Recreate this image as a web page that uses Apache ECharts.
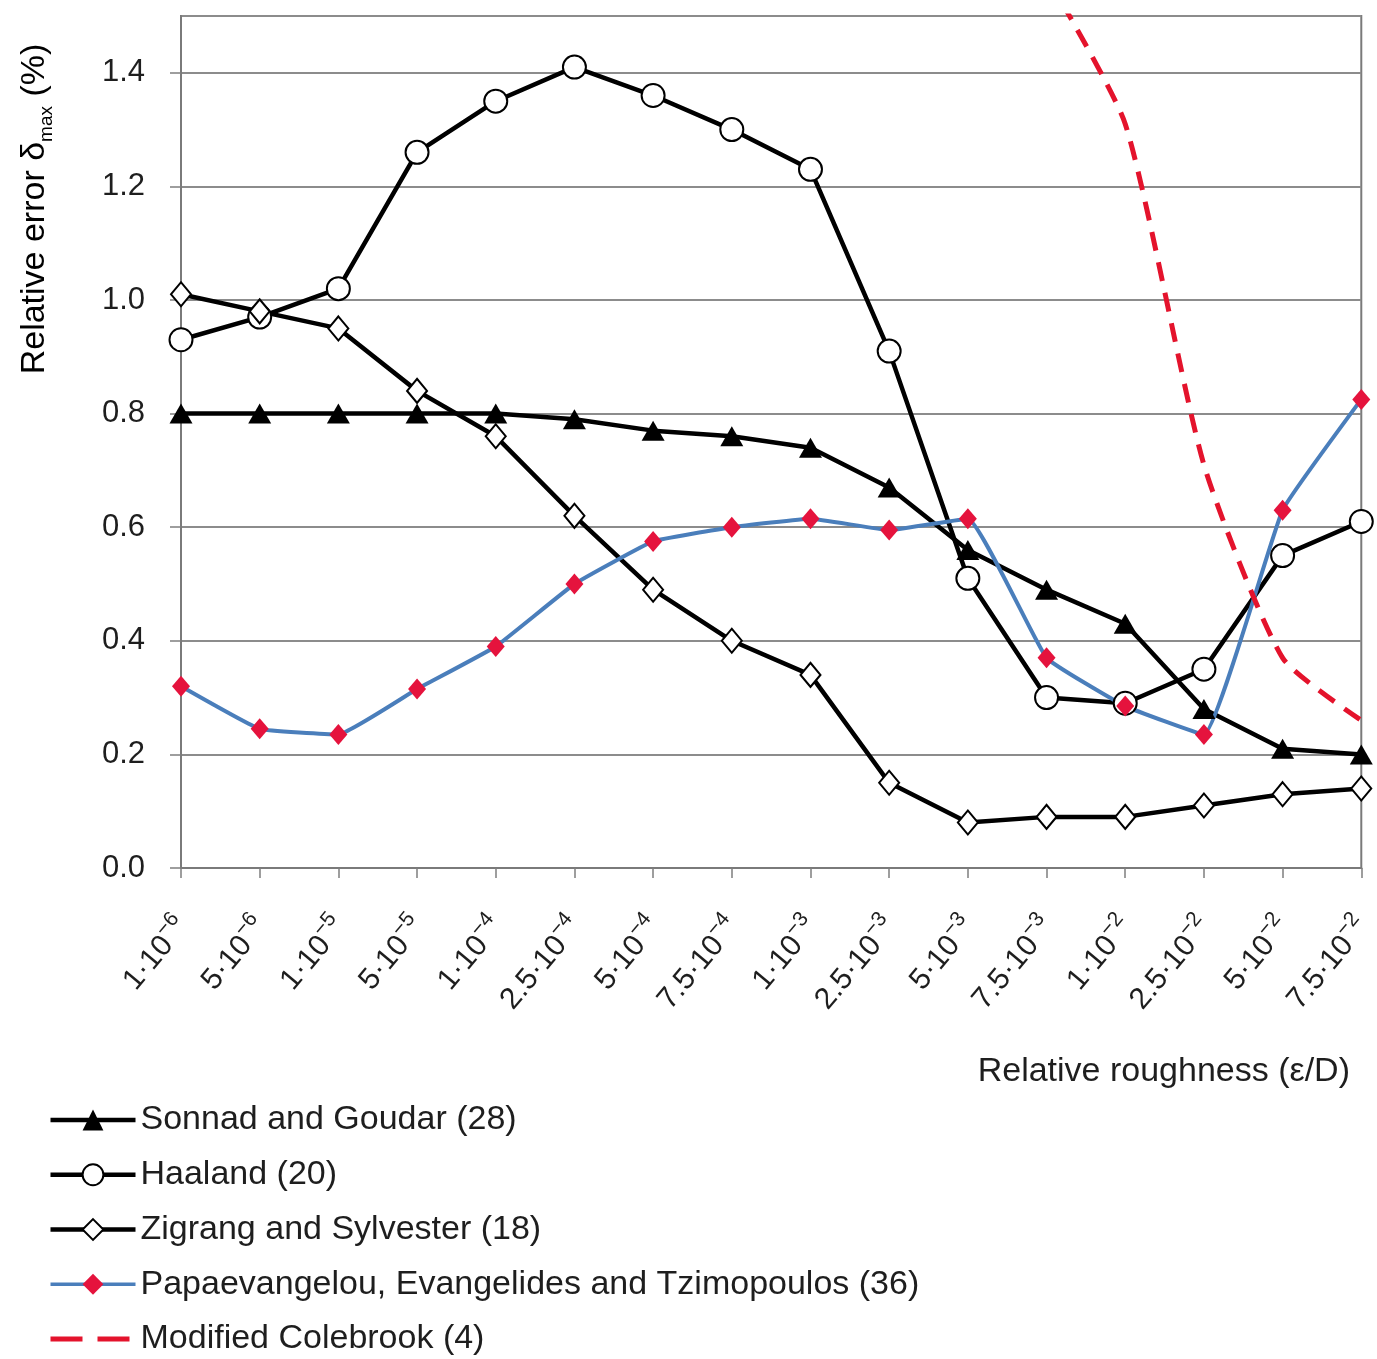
<!DOCTYPE html>
<html>
<head>
<meta charset="utf-8">
<script src="https://cdn.jsdelivr.net/npm/echarts@6/dist/echarts.min.js"></script>
<style>
  html, body { margin: 0; padding: 0; background: #ffffff; }
  #chart { width: 1377px; height: 1359px; }
</style>
</head>
<body>
<div id="chart"></div>
<script>
// Relative roughness categories (mantissa·10^exponent)
const roughness = ['1·10^-6', '5·10^-6', '1·10^-5', '5·10^-5', '1·10^-4', '2.5·10^-4', '5·10^-4', '7.5·10^-4',
                   '1·10^-3', '2.5·10^-3', '5·10^-3', '7.5·10^-3', '1·10^-2', '2.5·10^-2', '5·10^-2', '7.5·10^-2'];

// Maximum relative error (%) of each explicit approximation
const sonnadGoudar = [0.80, 0.80, 0.80, 0.80, 0.80, 0.79, 0.77, 0.76, 0.74, 0.67, 0.56, 0.49, 0.43, 0.28, 0.21, 0.20];
const haaland      = [0.93, 0.97, 1.02, 1.26, 1.35, 1.41, 1.36, 1.30, 1.23, 0.91, 0.51, 0.30, 0.29, 0.35, 0.55, 0.61];
const zigrang      = [1.01, 0.98, 0.95, 0.84, 0.76, 0.62, 0.49, 0.40, 0.34, 0.15, 0.08, 0.09, 0.09, 0.11, 0.13, 0.14];
const papaevangelou = [0.32, 0.245, 0.235, 0.315, 0.39, 0.50, 0.575, 0.60, 0.615, 0.595, 0.615, 0.37, 0.285, 0.235, 0.63, 0.825];
const colebrook    = [null, null, null, null, null, null, null, null, null, null, null, 1.57, 1.31, 0.71, 0.37, 0.26];

// Y-axis ticks
const yMin = 0, yMax = 1.5, yStep = 0.2;

const seriesNames = ['Sonnad and Goudar (28)', 'Haaland (20)', 'Zigrang and Sylvester (18)',
                     'Papaevangelou, Evangelides and Tzimopoulos (36)', 'Modified Colebrook (4)'];

const FONT = 'Liberation Sans';
const TXT = '#1e1e1e';

const chart = echarts.init(document.getElementById('chart'), null, { renderer: 'canvas' });

chart.setOption({
  animation: false,
  backgroundColor: '#ffffff',
  grid: {
    left: 181, right: 7, top: 16, bottom: 491,
    show: true, borderColor: '#7a7a7a', borderWidth: 2, backgroundColor: 'transparent'
  },
  xAxis: {
    type: 'category',
    data: roughness,
    boundaryGap: false,
    axisLine: { show: true, lineStyle: { color: '#7a7a7a', width: 2 } },
    axisTick: { show: true, inside: false, length: 10, lineStyle: { color: '#7f7f7f', width: 1.5 } },
    splitLine: { show: false },
    axisLabel: {
      interval: 0,
      rotate: 50,
      margin: 52,
      formatter: function (v) {
        const parts = v.split('^');
        return '{m|' + parts[0] + '}{e|' + parts[1].replace('-', '\u2212') + '}';
      },
      rich: {
        m: { fontFamily: FONT, fontSize: 30, color: TXT, lineHeight: 36, verticalAlign: 'bottom' },
        e: { fontFamily: FONT, fontSize: 21, color: TXT, lineHeight: 22, verticalAlign: 'top' }
      }
    }
  },
  yAxis: {
    type: 'value',
    min: yMin, max: yMax, interval: yStep,
    axisLine: { show: true, lineStyle: { color: '#7a7a7a', width: 2 } },
    axisTick: { show: true, inside: false, length: 11, lineStyle: { color: '#7f7f7f', width: 1.5 } },
    splitLine: { show: true, lineStyle: { color: '#8c8c8c', width: 2 } },
    axisLabel: {
      margin: 36,
      fontFamily: FONT, fontSize: 31, color: TXT,
      showMaxLabel: false,
      formatter: function (v) { return v > 1.45 ? '' : v.toFixed(1); }
    }
  },
  legend: {
    orient: 'vertical',
    left: 48, top: 1103, padding: 0,
    itemWidth: 85, itemHeight: 26, itemGap: 20.75,
    lineStyle: { width: 'inherit' },
    data: [
      { name: seriesNames[0] },
      { name: seriesNames[1] },
      { name: seriesNames[2] },
      { name: seriesNames[3], lineStyle: { width: 3.5 } },
      { name: seriesNames[4], lineStyle: { type: [32, 15], width: 5 } }
    ],
    textStyle: { fontFamily: FONT, fontSize: 34, color: TXT, lineHeight: 34 }
  },
  graphic: [
    {
      type: 'text',
      x: 35, y: 209,
      rotation: Math.PI / 2,
      style: {
        text: '{a|Relative error \u03b4}{s|max}{a| (%)}',
        align: 'center', verticalAlign: 'middle',
        rich: {
          a: { fontFamily: FONT, fontSize: 34, color: TXT, lineHeight: 42 },
          s: { fontFamily: FONT, fontSize: 19, color: TXT, lineHeight: 19, verticalAlign: 'bottom' }
        }
      }
    },
    {
      type: 'text',
      x: 1350, y: 1072,
      style: {
        text: 'Relative roughness (\u03b5/D)',
        fontFamily: FONT, fontSize: 34, fill: TXT,
        align: 'right', verticalAlign: 'middle'
      }
    }
  ],
  series: [
    {
      name: seriesNames[0], type: 'line', data: sonnadGoudar,
      symbol: 'triangle', symbolSize: [23, 20],
      itemStyle: { color: '#000000' },
      lineStyle: { color: '#000000', width: 4.5 }
    },
    {
      name: seriesNames[1], type: 'line', data: haaland,
      symbol: 'circle', symbolSize: 23,
      itemStyle: { color: '#ffffff', borderColor: '#000000', borderWidth: 2 },
      lineStyle: { color: '#000000', width: 4.5 }
    },
    {
      name: seriesNames[2], type: 'line', data: zigrang,
      symbol: 'diamond', symbolSize: [20, 24],
      itemStyle: { color: '#ffffff', borderColor: '#000000', borderWidth: 2 },
      lineStyle: { color: '#000000', width: 4.5 }
    },
    {
      name: seriesNames[3], type: 'line', data: papaevangelou,
      smooth: 0.1,
      symbol: 'diamond', symbolSize: [18, 21],
      itemStyle: { color: '#e5133d' },
      lineStyle: { color: '#4a7ebb', width: 4 }
    },
    {
      name: seriesNames[4], type: 'line', data: colebrook,
      smooth: 0.2, connectNulls: false,
      symbol: 'none',
      itemStyle: { color: 'rgba(0,0,0,0)' },
      lineStyle: { color: '#e4132c', width: 5, type: [19, 12] }
    }
  ]
});
</script>
</body>
</html>
